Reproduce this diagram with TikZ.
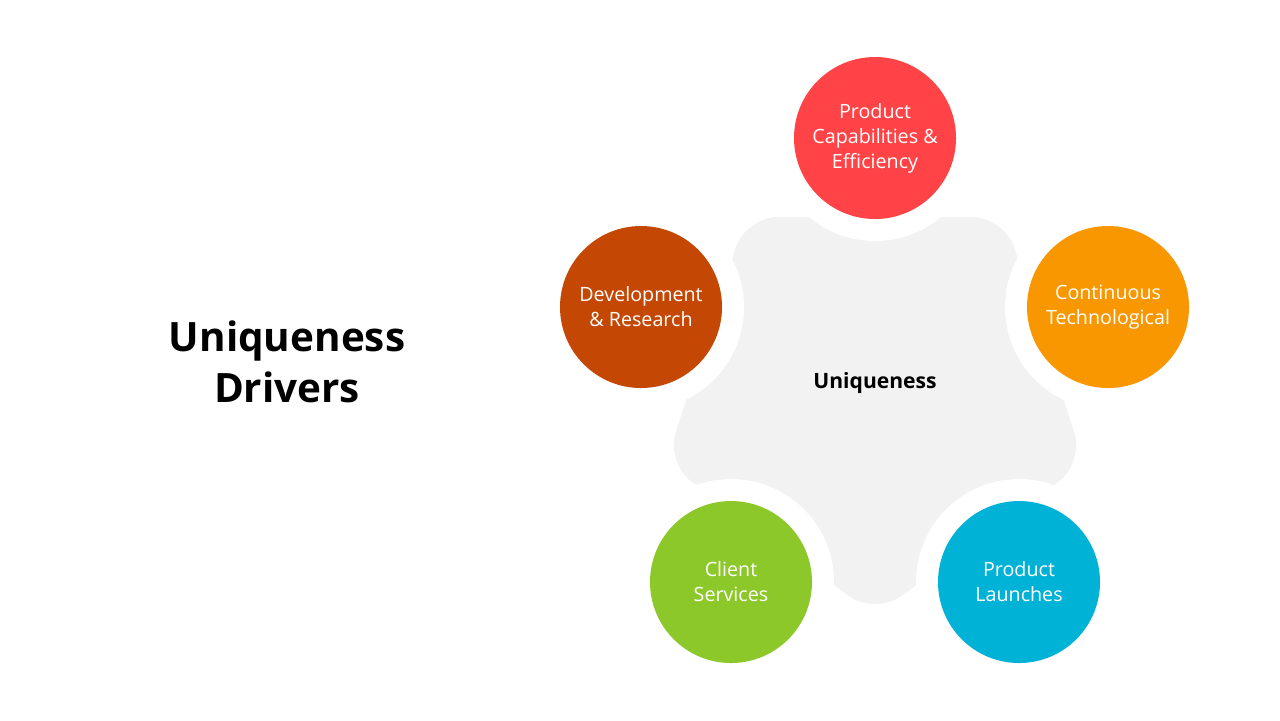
\documentclass[tikz,border=0pt]{standalone}
\usepackage{fontspec}
\usetikzlibrary{calc}
\setmainfont{Open Sans}
\definecolor{cred}{HTML}{FF4346}
\definecolor{corange}{HTML}{F99700}
\definecolor{cbrown}{HTML}{C44804}
\definecolor{cgreen}{HTML}{8CC82A}
\definecolor{cblue}{HTML}{00B2D6}
\definecolor{cgray}{HTML}{F2F2F2}
\begin{document}
\begin{tikzpicture}[x=0.01cm,y=-0.01cm,
  bub/.style={circle,minimum size=162*0.01cm,inner sep=0pt,text=white,align=center,font=\fontsize{5.6}{7.1}\selectfont},
  ring/.style={circle,fill=white,minimum size=206*0.01cm,inner sep=0pt}]
\useasboundingbox (0,0) rectangle (1280,720);
\fill[white] (0,0) rectangle (1280,720);
\coordinate (c) at (875,395);
\fill[cgray,rounded corners=32*0.01cm] ($(c)+(126:220 and -220)$) \foreach \a in {54,-18,-90,198} {-- ($(c)+(\a:220 and -220)$)} -- cycle;
\foreach \p in {(875,138),(641,307),(1108,307),(731,582),(1019,582)}
  {\node[ring] at \p {};}
\node[font=\bfseries\fontsize{6}{7}\selectfont] (u) at (875,383) {Uniqueness};
\node[bub,fill=cred] (a) at (875,138) {Product\\Capabilities \&\\Efficiency};
\node[bub,fill=cbrown] (b) at (641,307) {Development\\\& Research};
\node[bub,fill=corange] (d) at (1108,307) {Continuous\\Technological};
\node[bub,fill=cgreen] (e) at (731,582) {Client\\Services};
\node[bub,fill=cblue] (f) at (1019,582) {Product\\Launches};
\node[font=\bfseries\fontsize{11.5}{14.5}\selectfont,align=center] (t) at (287,362) {Uniqueness\\Drivers};
\end{tikzpicture}
\end{document}
